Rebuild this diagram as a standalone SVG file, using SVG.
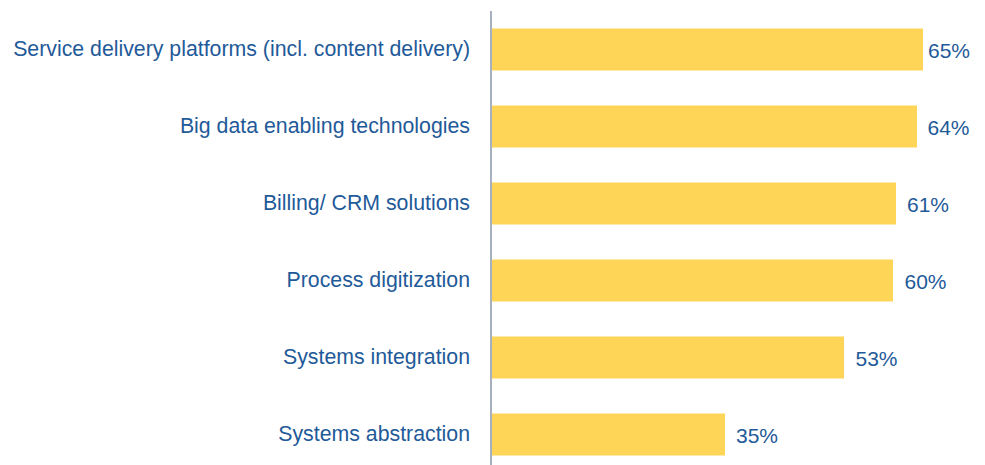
<svg xmlns="http://www.w3.org/2000/svg" width="985" height="465" viewBox="0 0 985 465">
<style>
.lbl{font-family:"Liberation Sans",Arial,sans-serif;font-size:21.3px;fill:#1f5a99;text-anchor:end}
.val{font-family:"Liberation Sans",Arial,sans-serif;font-size:21px;fill:#1f5a99}
.bar{fill:#ffd557}
</style>
<rect width="985" height="465" fill="#ffffff"/>
<g id="axis"><line x1="491" y1="11" x2="491" y2="465" stroke="#8a96a8" stroke-width="1.5"/></g>
<g id="row1"><text class="lbl" x="470" y="56">Service delivery platforms (incl. content delivery)</text><rect class="bar" x="492" y="28.5" width="431" height="42"/><text class="val" x="928" y="58">65%</text></g>
<g id="row2"><text class="lbl" x="470" y="133">Big data enabling technologies</text><rect class="bar" x="492" y="105.5" width="425" height="42"/><text class="val" x="927.5" y="135">64%</text></g>
<g id="row3"><text class="lbl" x="470" y="210">Billing/ CRM solutions</text><rect class="bar" x="492" y="182.5" width="404" height="42"/><text class="val" x="907" y="212">61%</text></g>
<g id="row4"><text class="lbl" x="470" y="287">Process digitization</text><rect class="bar" x="492" y="259.5" width="401" height="42"/><text class="val" x="904.5" y="289">60%</text></g>
<g id="row5"><text class="lbl" x="470" y="364">Systems integration</text><rect class="bar" x="492" y="336.5" width="352" height="42"/><text class="val" x="855.5" y="366">53%</text></g>
<g id="row6"><text class="lbl" x="470" y="441">Systems abstraction</text><rect class="bar" x="492" y="413.5" width="233" height="42"/><text class="val" x="736" y="443">35%</text></g>
</svg>
